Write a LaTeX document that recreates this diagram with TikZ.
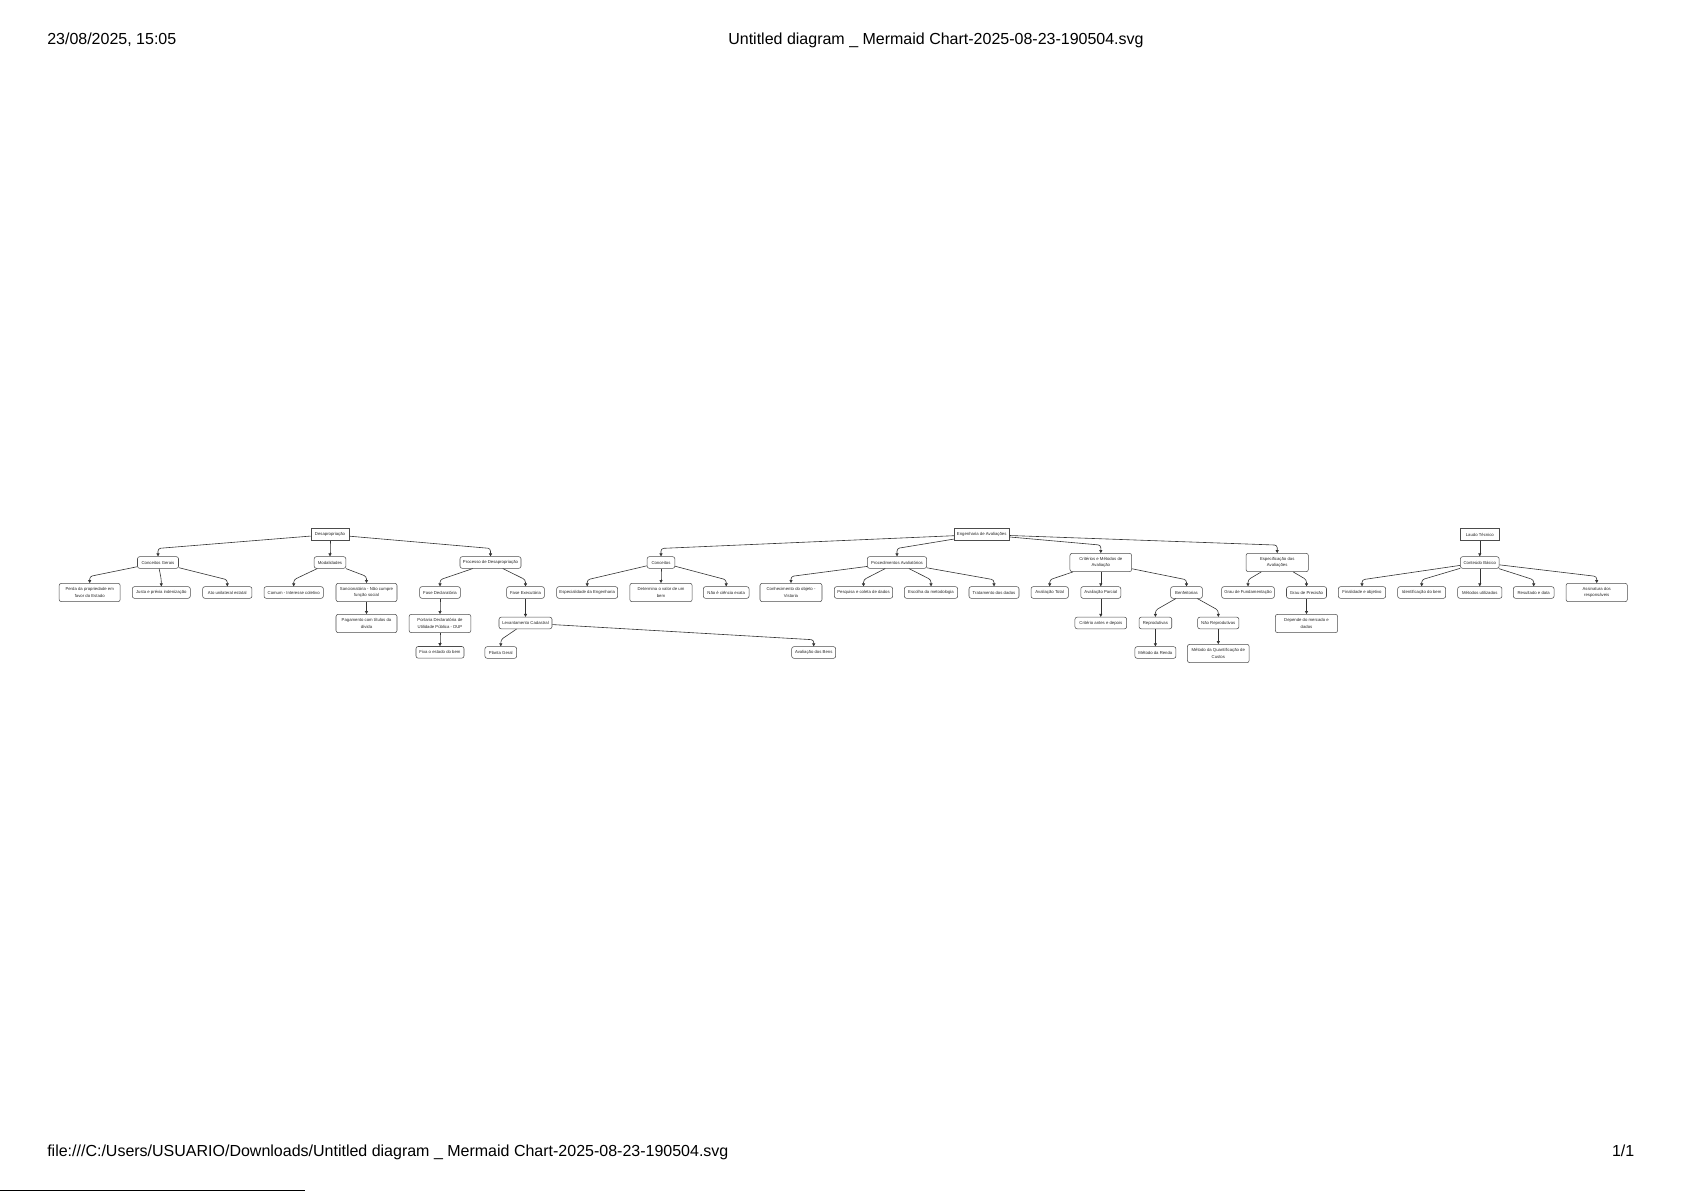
\documentclass[tikz,border=0pt]{standalone}
\usepackage{fontspec}
\setmainfont{Liberation Sans}
\usetikzlibrary{arrows.meta}
\newcommand\conto[3][5pt]{\draw[conn] (#2) -- ([yshift=#1]#3.north) -- (#3.north);}
\begin{document}
\begin{tikzpicture}[x=0.75pt,y=-0.75pt,
  box/.style={draw=black!70, line width=0.4pt, fill=white, rounded corners=1.6pt,
    inner xsep=0.5pt, inner ysep=0pt, minimum height=8.7pt,
    font=\fontsize{3.2}{5}\selectfont, text=black!85, align=center},
  two/.style={minimum height=13.7pt},
  rootbox/.style={box, sharp corners, minimum height=9.2pt},
  bw/.style={minimum width=0.75pt*#1},
  conn/.style={draw=black!80, line width=0.45pt, -{Triangle[length=2.3pt,width=2.3pt]}, rounded corners=2pt},
  hdr/.style={inner sep=0pt, font=\fontsize{12}{14}\selectfont}
]
\useasboundingbox[fill=white] (0,0) rectangle (1685,1191);

% header / footer
\node[hdr, anchor=base west] (date) at (47,44.5) {23/08/2025, 15:05};
\node[hdr, anchor=base] (title) at (936,44.5) {Untitled diagram \_ Mermaid Chart-2025-08-23-190504.svg};
\node[hdr, anchor=base west] (path) at (47,1156.5) {file:///C:/Users/USUARIO/Downloads/Untitled diagram \_ Mermaid Chart-2025-08-23-190504.svg};
\node[hdr, anchor=base east] (page) at (1634.5,1156.5) {1/1};
\coordinate (bl1) at (0,1190.4);
\coordinate (bl2) at (305,1190.4);
\draw[line width=0.8pt] (bl1) -- (bl2);

% ===== Tree 1: Desapropriação =====
\node[rootbox, bw=38] (d0) at (330,534.5) {Desapropriação};
\node[box, bw=41] (d1) at (158,562.5) {Conceitos Gerais};
\node[box, bw=31.7] (d2) at (330,562.5) {Modalidades};
\node[box, bw=61] (d3) at (490.5,562.5) {Processo de Desapropriação};
\node[box, two, bw=61] (d11) at (89.7,592.5) {Perda da propriedade em\\favor do Estado};
\node[box, bw=58] (d12) at (161.3,592.5) {Justa e prévia indenização};
\node[box, bw=49.3] (d13) at (227.3,592.5) {Ato unilateral estatal};
\node[box, bw=59.3] (d21) at (293.7,592.5) {Comum - Interesse coletivo};
\node[box, two, bw=61] (d22) at (366.5,592.5) {Sancionatória - Não cumpre\\função social};
\node[box, two, bw=61] (d221) at (366.5,623.5) {Pagamento com títulos da\\dívida};
\node[box, bw=40.7] (d31) at (440,592.5) {Fase Declaratória};
\node[box, two, bw=61.7] (d311) at (440,623.5) {Portaria Declaratória de\\Utilidade Pública - DUP};
\node[box, bw=48] (d3111) at (440,652.3) {Fixa o estado do bem};
\node[box, bw=37.7] (d32) at (525.5,592.5) {Fase Executória};
\node[box, bw=53] (d321) at (525.5,623) {Levantamento Cadastral};
\node[box, bw=31.7] (d3211) at (500.8,652.5) {Planta Geral};
\node[box, bw=44] (d3212) at (813.7,652.5) {Avaliação dos Bens};

\conto[6pt]{d0}{d1}
\conto[6pt]{d0}{d2}
\conto[6pt]{d0}{d3}
\conto{d1}{d11}
\conto{d1}{d12}
\conto{d1}{d13}
\conto{d2}{d21}
\conto{d2}{d22}
\conto{d22}{d221}
\conto{d3}{d31}
\conto{d3}{d32}
\conto{d31}{d311}
\conto{d311}{d3111}
\conto{d32}{d321}
\conto{d321}{d3211}
\conto{d321}{d3212}

% ===== Tree 2: Engenharia de Avaliações =====
\node[rootbox, bw=55.3] (e0) at (981.7,534.5) {Engenharia de Avaliações};
\node[box, bw=27.7] (e1) at (661,562.5) {Conceitos};
\node[box, bw=59.3] (e2) at (897,562.5) {Procedimentos Avaliatórios};
\node[box, two, bw=61.7] (e3) at (1100.8,562.5) {Critérios e Métodos de\\Avaliação};
\node[box, two, bw=62.3] (e4) at (1277.2,562.5) {Especificação das\\Avaliações};
\node[box, bw=61] (e11) at (587.2,592.5) {Especialidade da Engenharia};
\node[box, two, bw=62.3] (e12) at (661,592.5) {Determina o valor de um\\bem};
\node[box, bw=45.7] (e13) at (726.2,592.5) {Não é ciência exata};
\node[box, two, bw=62] (e21) at (791,592.5) {Conhecimento do objeto -\\Vistoria};
\node[box, bw=58.3] (e22) at (863.5,592.5) {Pesquisa e coleta de dados};
\node[box, bw=53.3] (e23) at (931,592.5) {Escolha da metodologia};
\node[box, bw=50] (e24) at (994,592.5) {Tratamento dos dados};
\node[box, bw=37.3] (e31) at (1049.7,592.5) {Avaliação Total};
\node[box, bw=40] (e32) at (1100.8,592.5) {Avaliação Parcial};
\node[box, bw=51.7] (e321) at (1100.8,623) {Critério antes e depois};
\node[box, bw=31.7] (e33) at (1186.5,592.5) {Benfeitorias};
\node[box, bw=32.7] (e331) at (1155.4,623) {Reprodutivas};
\node[box, bw=41.3] (e332) at (1218.3,623) {Não Reprodutivas};
\node[box, bw=41] (e3311) at (1155.4,652.5) {Método da Renda};
\node[box, two, bw=61.7] (e3321) at (1218.3,653.5) {Método da Quantificação de\\Custos};
\node[box, bw=52.7] (e41) at (1248,592.5) {Grau de Fundamentação};
\node[box, bw=40] (e42) at (1306.5,592.5) {Grau de Precisão};
\node[box, two, bw=62.3] (e421) at (1306.5,623.5) {Depende do mercado e\\dados};

\conto[6pt]{e0}{e1}
\conto[6pt]{e0}{e2}
\conto[6pt]{e0}{e3}
\conto[6pt]{e0}{e4}
\conto{e1}{e11}
\conto{e1}{e12}
\conto{e1}{e13}
\conto{e2}{e21}
\conto{e2}{e22}
\conto{e2}{e23}
\conto{e2}{e24}
\conto{e3}{e31}
\conto{e3}{e32}
\conto{e3}{e33}
\conto{e32}{e321}
\conto{e33}{e331}
\conto{e33}{e332}
\conto{e331}{e3311}
\conto{e332}{e3321}
\conto{e4}{e41}
\conto{e4}{e42}
\conto{e42}{e421}

% ===== Tree 3: Laudo Técnico =====
\node[rootbox, bw=39] (l0) at (1479.8,534.5) {Laudo Técnico};
\node[box, bw=38.7] (l1) at (1479.8,562.5) {Conteúdo Básico};
\node[box, bw=47.3] (l11) at (1362,592.5) {Finalidade e objetivo};
\node[box, bw=48] (l12) at (1421.7,592.5) {Identificação do bem};
\node[box, bw=44.3] (l13) at (1479.8,592.5) {Métodos utilizados};
\node[box, bw=40.7] (l14) at (1533.7,592.5) {Resultado e data};
\node[box, two, bw=61.3] (l15) at (1596.7,592.5) {Assinatura dos\\responsáveis};

\conto[6pt]{l0}{l1}
\conto{l1}{l11}
\conto{l1}{l12}
\conto{l1}{l13}
\conto{l1}{l14}
\conto{l1}{l15}
\end{tikzpicture}
\end{document}
